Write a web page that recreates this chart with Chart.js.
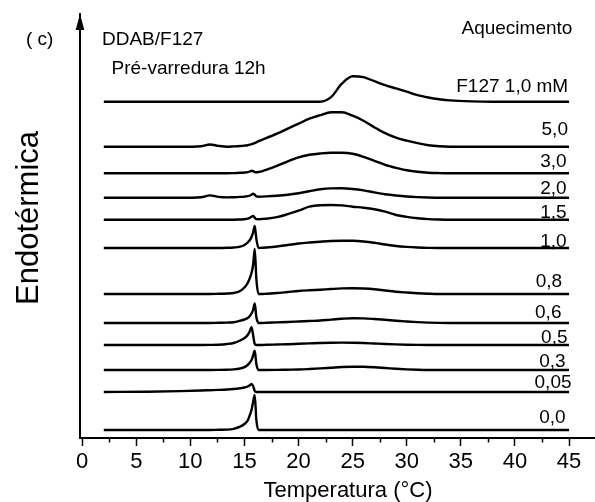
<!DOCTYPE html>
<html lang="pt">
<head>
<meta charset="UTF-8"/>
<title>DDAB/F127 - DSC</title>
<script src="https://cdn.jsdelivr.net/npm/chart.js@4.4.1/dist/chart.umd.min.js"></script>
<style>
  body { margin:0; background:#fff; }
  #wrap { width:595px; height:502px; position:relative; }
</style>
</head>
<body>
<div id="wrap"><canvas id="Chart"></canvas></div>
<script>
// temperature grid (°C) shared by all thermograms
var temps = [2, 6, 9, 11, 11.8, 12.6, 13.4, 14, 14.6, 15, 15.3, 15.5, 15.65, 15.8, 15.95, 16.1, 16.3, 16.6, 17, 18,
             19, 20, 21, 22, 23, 24, 25, 26, 27, 28, 29, 30, 31, 32, 33, 34, 36, 38, 45];

// heat flow above each baseline (arb. units)
var heatF127 = [0,0,0,0,0,0,0,0,0,0, 0,0,0,0,0,0,0,0,0,0, 0,0,0,0,4.5,18,25.5,24.5,20.5,16.5, 13.3,10,6.5,4.2,2.5,1.3,0.3,0,0];
var heat50   = [0,0,0,0.5,2.2,0.8,0,0.3,0.7,1.1, 1.5,2,2.5,3,3.6,4.3,5.5,6.8,8.5,13, 18,23,28,31.5,34.5,34.5,31,26,19.5,13.5, 9,6,3.5,1.5,0.4,0,0,0,0];
var heat30   = [0,0,0,0,0,0,0,0.2,0.5,0.8, 1.2,1.8,2.6,2.2,1.2,1,1.3,2,3.5,7.5, 12,16,18.5,19.8,20.5,20.5,19.5,16.5,12.5,8.5, 5.5,3,1.5,0.6,0.2,0,0,0,0];
var heat20   = [0,0,0,0.5,2.3,0.8,0.3,0.5,0.8,1.1, 1.5,2.2,3,4,3,1.3,1,1.1,1.3,2, 3,4.5,6.5,8.4,9.3,9.4,8.7,7.3,5.3,3.5, 2.2,1.2,0.6,0.2,0,0,0,0,0];
var heat15   = [0,0,0,0,0,0,0,0,0.2,0.4, 1,2,3,3.7,2,0.6,0.5,0.7,1,2.5, 5.5,9,13,14.5,14.7,14.3,13,12,10.5,8, 4.7,2.8,1.5,0.6,0.2,0,0,0,0];
var heat10   = [0,0,0,0,0,0,0.2,0.5,1.3,3, 5.5,8,11,15.5,22,9,0,0.2,0.5,1.5, 3,4.5,5.5,6.3,7,7.3,7.2,6.5,5.2,3.5, 2,1.1,0.5,0.1,0,0,0,0,0];
var heat08   = [0,0,0,0,0,0.2,0.5,1,3,6.5, 11,16,21,29,45,15,0,0,0.3,1, 2,3,3.7,4.3,5,5.6,5.8,5.5,4.8,3.5, 2.3,1.5,0.8,0.3,0,0,0,0,0];
var heat06   = [0,0,0,0,0,0.2,0.4,0.8,2.3,3.5, 5,7,9.5,13,19.5,6,0,0,0.2,0.6, 1,1.5,2,2.5,3.4,4.2,4.7,4.6,4,3.2, 2.2,1.5,0.9,0.4,0.1,0,0,0,0];
var heat05   = [0,0,0,0,0.1,0.3,1,2,4.5,7, 10,14,17.7,10,1,0,0,0,0.2,0.5, 0.8,1.2,1.6,2,2.3,2.4,2.3,2,1.5,1, 0.6,0.3,0.1,0,0,0,0,0,0];
var heat03   = [0,0,0,0,0,0.1,0.3,0.6,1.5,2.8, 5,7.5,10,14.5,19.3,6,0,0,0,0.1, 0.3,0.5,1,1.6,2.3,3,3.3,3.2,2.7,2, 1.2,0.6,0.2,0,0,0,0,0,0];
var heat005  = [0,0.3,0.9,1.5,1.8,2.1,2.5,3,3.8,4.5, 5.5,6.7,8,6,1,0,0,0,0,0, 0,0,0,0,0,0,0,0,0,0, 0,0,0,0,0,0,0,0,0];
var heat00   = [0,0,0,0,0,0.2,0.4,1.2,3.3,6, 9.5,15,20,28,35,10,0,0,0,0, 0,0,0,0,0,0,0,0,0,0, 0,0,0,0,0,0,0,0,0];

var seriesNames = ['F127 1,0 mM', '5,0', '3,0', '2,0', '1,5', '1,0', '0,8', '0,6', '0,5', '0,3', '0,05', '0,0'];
var heats = [heatF127, heat50, heat30, heat20, heat15, heat10, heat08, heat06, heat05, heat03, heat005, heat00];
// vertical offset of each curve in the stack
var offsets = [336.3, 291.3, 264.7, 240.3, 218.3, 190, 144, 115, 93, 68, 46, 8];

var xTicks = [0, 5, 10, 15, 20, 25, 30, 35, 40, 45];
var minorTicks = [2.5, 7.5, 12.5, 17.5, 22.5, 27.5, 32.5, 37.5, 42.5];

// where the concentration labels sit (right edge in °C, baseline in y units)
var labelX = [44.92, 44.9, 44.77, 44.77, 44.77, 44.77, 44.36, 44.3, 44.86, 44.68, 45.23, 44.68];
var labelY = [346, 303, 271, 244, 220, 191.3, 151.3, 119.7, 95.3, 71.3, 49.7, 15.3];

var FONT = '"Liberation Sans", Arial, Helvetica, sans-serif';

var datasets = heats.map(function(h, i){
  return {
    label: seriesNames[i],
    data: temps.map(function(t, j){ return {x: t, y: offsets[i] + h[j]}; }),
    borderColor: '#000',
    borderWidth: 2.4,
    pointRadius: 0,
    fill: false,
    cubicInterpolationMode: 'monotone'
  };
});

var decorations = {
  id: 'decorations',
  afterDraw: function(chart){
    var ctx = chart.ctx, area = chart.chartArea, x = chart.scales.x, y = chart.scales.y;
    ctx.save();
    // minor ticks
    ctx.strokeStyle = '#000';
    ctx.lineWidth = 1.5;
    minorTicks.forEach(function(v){
      var px = Math.round(x.getPixelForValue(v)) + 0.5;
      ctx.beginPath();
      ctx.moveTo(px, area.bottom);
      ctx.lineTo(px, area.bottom + 4.5);
      ctx.stroke();
    });
    // arrow on the y axis
    ctx.fillStyle = '#000';
    ctx.beginPath();
    ctx.moveTo(area.left, area.top);
    ctx.lineTo(area.left - 4.3, area.top + 16);
    ctx.lineTo(area.left + 4.3, area.top + 16);
    ctx.closePath();
    ctx.fill();

    // curve labels
    ctx.font = '19px ' + FONT;
    ctx.textAlign = 'right';
    ctx.textBaseline = 'alphabetic';
    seriesNames.forEach(function(n, i){
      ctx.fillText(n, x.getPixelForValue(labelX[i]), y.getPixelForValue(labelY[i]));
    });

    ctx.textAlign = 'left';
    ctx.fillText('( c)', 26, 45);
    ctx.fillText('DDAB/F127', 102, 45);
    ctx.fillText('Pré-varredura 12h', 111.5, 74);
    ctx.fillText('Aquecimento', 461.5, 34.3);

    // axis titles
    ctx.font = '22px ' + FONT;
    ctx.textAlign = 'center';
    ctx.fillText('Temperatura (°C)', 348, 497);

    ctx.translate(37.5, 218);
    ctx.rotate(-Math.PI / 2);
    ctx.font = '31px ' + FONT;
    ctx.fillText('Endotérmica', 0, 0);
    ctx.restore();
  }
};

var chart = new Chart(document.getElementById('Chart'), {
  type: 'line',
  data: { datasets: datasets },
  options: {
    responsive: true,
    maintainAspectRatio: false,
    animation: false,
    layout: { padding: { top: 14, right: 0, bottom: 0, left: 0 } },
    plugins: { legend: { display: false }, tooltip: { enabled: false } },
    scales: {
      x: {
        type: 'linear',
        min: -0.2,
        max: 47.4,
        afterBuildTicks: function(s){ s.ticks = xTicks.map(function(v){ return {value: v}; }); },
        afterFit: function(s){ s.height = 64; },
        grid: { display: true, drawOnChartArea: false, drawTicks: true, tickLength: 8, tickWidth: 1.5, tickColor: '#000' },
        border: { display: true, color: '#000', width: 2 },
        ticks: { color: '#000', font: { family: FONT, size: 22 }, padding: 3, maxRotation: 0, autoSkip: false }
      },
      y: {
        type: 'linear',
        min: 0,
        max: 424,
        afterFit: function(s){ s.width = 80; },
        grid: { display: false },
        border: { display: true, color: '#000', width: 2 },
        ticks: { display: false }
      }
    }
  },
  plugins: [decorations]
});
</script>
</body>
</html>
